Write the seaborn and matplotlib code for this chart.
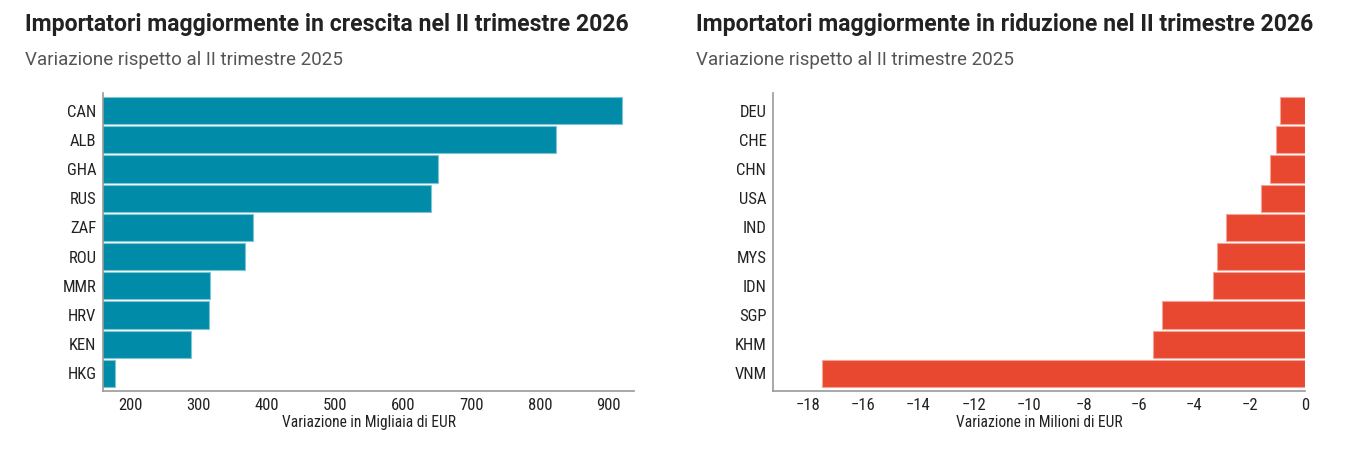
import matplotlib
matplotlib.use("Agg")
import matplotlib.pyplot as plt
from matplotlib import font_manager
import seaborn as sns
import pandas as pd

# ---- data ----
cat_up = ["CAN", "ALB", "GHA", "RUS", "ZAF", "ROU", "MMR", "HRV", "KEN", "HKG"]
val_up = [921, 823, 651, 640, 379, 367, 316, 315, 289, 177]
cat_down = ["DEU", "CHE", "CHN", "USA", "IND", "MYS", "IDN", "SGP", "KHM", "VNM"]
val_down = [-0.89, -1.04, -1.25, -1.61, -2.85, -3.18, -3.33, -5.19, -5.51, -17.5]
xticks_up = [200, 300, 400, 500, 600, 700, 800, 900]
xticks_down = [-18, -16, -14, -12, -10, -8, -6, -4, -2, 0]
title_up = "Importatori maggiormente in crescita nel II trimestre 2026"
title_down = "Importatori maggiormente in riduzione nel II trimestre 2026"
subtitle = "Variazione rispetto al II trimestre 2025"
xlabel_up = "Variazione in Migliaia di EUR"
xlabel_down = "Variazione in Milioni di EUR"

sns.set_theme(style="white")

names = {f.name for f in font_manager.fontManager.ttflist}
def pick(*cands):
    for c in cands:
        if c in names:
            return c
    return "DejaVu Sans"
title_font = pick("Roboto", "Open Sans", "DejaVu Sans")
tick_font = pick("Roboto Condensed", "Liberation Sans Narrow", "Roboto", "DejaVu Sans")
plt.rcParams["font.family"] = [title_font, "DejaVu Sans"]

fig = plt.figure(figsize=(13.69, 4.61), dpi=100)
W, H = 1369, 461

def add_ax(x0, x1, y0, y1):
    return fig.add_axes([x0 / W, 1 - y1 / H, (x1 - x0) / W, (y1 - y0) / H])

ax1 = add_ax(103, 634, 93, 391)
ax2 = add_ax(773, 1305, 93, 391)

df_up = pd.DataFrame({"paese": cat_up, "valore": val_up})
df_down = pd.DataFrame({"paese": cat_down, "valore": val_down})

sns.barplot(data=df_up, x="valore", y="paese", order=cat_up, color="#008BA8",
            saturation=1, width=0.93, edgecolor="#7FC4D3", linewidth=0.8, ax=ax1)
sns.barplot(data=df_down, x="valore", y="paese", order=cat_down, color="#E84730",
            saturation=1, width=0.93, edgecolor="#F4A397", linewidth=0.8, ax=ax2)

ax1.set_xlim(159.5, 938)
ax2.set_xlim(-19.26, 0)

for ax, ticks, xl in ((ax1, xticks_up, xlabel_up), (ax2, xticks_down, xlabel_down)):
    ax.set_ylim(9.6, -0.6)
    ax.set_xticks(ticks)
    if ax is ax2:
        ax.set_xticklabels([("\u2212" + str(-t)) if t < 0 else str(t) for t in ticks])
    ax.set_xlabel(xl, fontsize=11.2, family=tick_font, color="#222222", labelpad=2)
    ax.set_ylabel("")
    for s in ("top", "right"):
        ax.spines[s].set_visible(False)
    for s in ("left", "bottom"):
        ax.spines[s].set_color("#999999")
        ax.spines[s].set_linewidth(1.2)
    ax.tick_params(axis="both", which="major", length=3.8, width=1, color="#555555",
                   labelsize=12, labelcolor="#222222", pad=1, direction="out")
    for lab in ax.get_xticklabels() + ax.get_yticklabels():
        lab.set_family(tick_font)
    # outer ticks at the ends of the domain
    lo, hi = ax.get_xlim()
    ax.set_xticks([lo, hi], minor=True)
    ax.set_yticks([-0.6, 9.6], minor=True)
    ax.tick_params(which="minor", length=3.8, width=1, color="#555555", direction="out")
    ax.grid(False)

# titles
fig.text(25 / W, 1 - 31 / H, title_up, fontsize=16.6, fontweight="bold", color="#222222", va="baseline")
fig.text(25 / W, 1 - 65 / H, subtitle, fontsize=13.5, color="#555555", va="baseline")
fig.text(696 / W, 1 - 31 / H, title_down, fontsize=16.6, fontweight="bold", color="#222222", va="baseline")
fig.text(696 / W, 1 - 65 / H, subtitle, fontsize=13.5, color="#555555", va="baseline")

fig.savefig("out.png", dpi=100, facecolor="white")
